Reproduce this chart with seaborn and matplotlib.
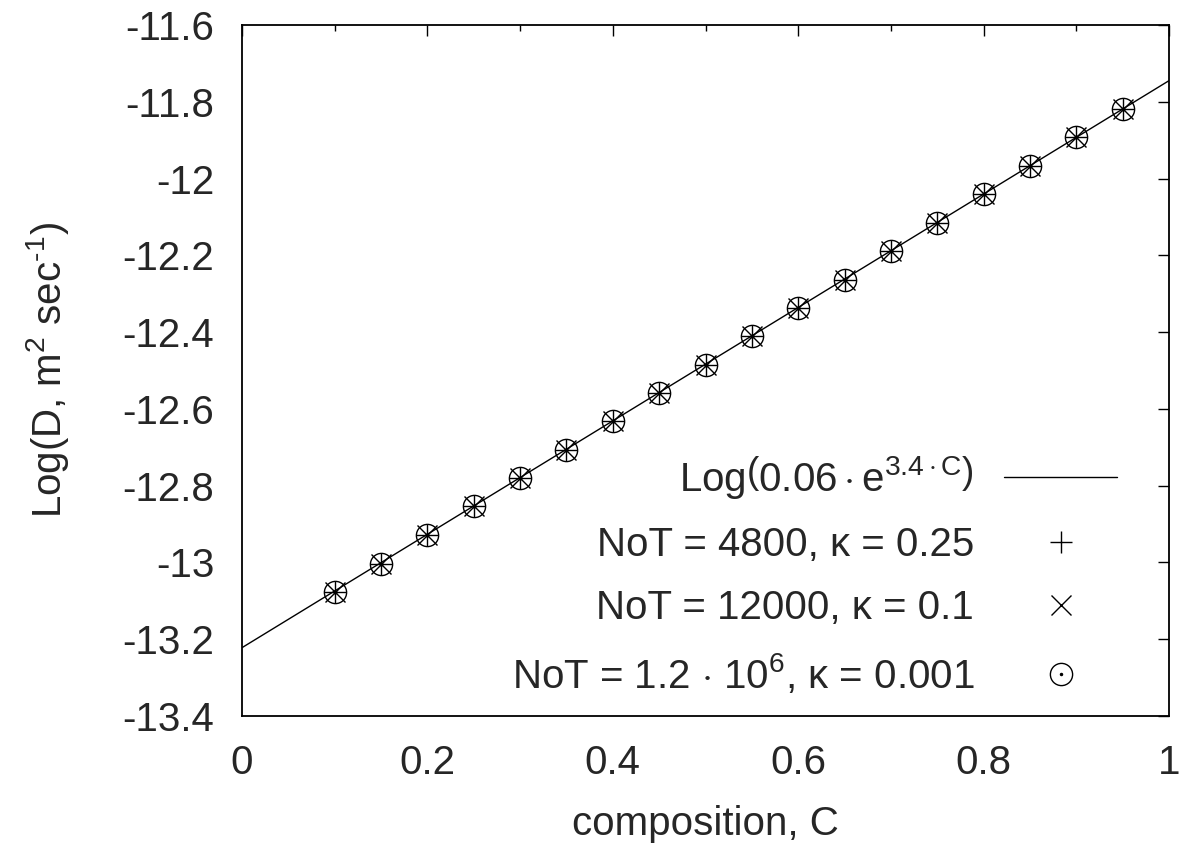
import matplotlib
matplotlib.use("Agg")
import matplotlib.pyplot as plt
import seaborn as sns
import pandas as pd
from matplotlib.lines import Line2D

# ---- data ----
composition = [0.10, 0.15, 0.20, 0.25, 0.30, 0.35, 0.40, 0.45, 0.50,
               0.55, 0.60, 0.65, 0.70, 0.75, 0.80, 0.85, 0.90, 0.95]
log_d = [-13.076, -13.004, -12.928, -12.854, -12.780, -12.706, -12.632, -12.558, -12.485,
         -12.411, -12.337, -12.263, -12.190, -12.115, -12.041, -11.967, -11.893, -11.820]
fit_c = [0.0, 1.0]
fit_logd = [-13.222, -11.745]

fit_label = r'Log$\left(\mathrm{0.06\cdot e^{3.4\cdot C}}\right)$'
series_labels = ['NoT = 4800, κ = 0.25',
                 'NoT = 12000, κ = 0.1',
                 r'NoT = 1.2 $\cdot$ 10$^{6}$, κ = 0.001']
x_ticks = [0, 0.2, 0.4, 0.6, 0.8, 1]
x_ticklabels = ['0', '0.2', '0.4', '0.6', '0.8', '1']
y_ticks = [-13.4, -13.2, -13.0, -12.8, -12.6, -12.4, -12.2, -12.0, -11.8, -11.6]
y_ticklabels = ['-13.4', '-13.2', '-13', '-12.8', '-12.6', '-12.4', '-12.2', '-12', '-11.8', '-11.6']

sns.set_theme(style="white")
plt.rcParams['font.family'] = ['Liberation Sans', 'DejaVu Sans']
plt.rcParams['mathtext.fontset'] = 'custom'
plt.rcParams['mathtext.rm'] = 'Liberation Sans'
plt.rcParams['mathtext.it'] = 'Liberation Sans:italic'
plt.rcParams['mathtext.bf'] = 'Liberation Sans:bold'

FS = 29
fig = plt.figure(figsize=(11.82, 8.51), dpi=100)
ax = fig.add_axes([242/1182, 1-716/851, (1169-242)/1182, (716-25)/851])

df = pd.DataFrame({'C': composition, 'logD': log_d})
fit_df = pd.DataFrame({'C': fit_c, 'logD': fit_logd})

sns.lineplot(data=fit_df, x='C', y='logD', ax=ax, color='black', linewidth=1.0)
ax.plot(df['C'], df['logD'], linestyle='none', marker='+', markersize=16,
        markeredgewidth=1.0, color='black')
ax.plot(df['C'], df['logD'], linestyle='none', marker='x', markersize=15,
        markeredgewidth=1.0, color='black')
ax.plot(df['C'], df['logD'], linestyle='none', marker='o', markersize=16,
        markeredgewidth=1.0, markerfacecolor='none', color='black')
ax.plot(df['C'], df['logD'], linestyle='none', marker='o', markersize=2,
        color='black')

ax.set_xlim(0, 1)
ax.set_ylim(-13.4, -11.6)
ax.set_xticks(x_ticks)
ax.set_xticklabels(x_ticklabels)
ax.set_xticks([0.1, 0.3, 0.5, 0.7, 0.9], minor=True)
ax.set_yticks(y_ticks)
ax.set_yticklabels(y_ticklabels)
ax.tick_params(axis='both', which='major', direction='in', length=8, width=1.0,
               top=True, right=True, labelsize=FS, pad=20, color='black')
ax.tick_params(axis='both', which='minor', direction='in', length=4, width=1.0,
               top=True, right=True, color='black')
for s in ax.spines.values():
    s.set_linewidth(1.3)
    s.set_color('black')

ax.set_xlabel('composition, C', fontsize=FS, labelpad=17)
ax.set_ylabel(r'Log(D, m$^{2}$ sec$^{\text{-1}}$)', fontsize=FS, labelpad=37)

h_fit = Line2D([], [], color='black', linewidth=1.0)
h_plus = Line2D([], [], linestyle='none', marker='+', markersize=16, markeredgewidth=1.0, color='black')
h_x = Line2D([], [], linestyle='none', marker='x', markersize=15, markeredgewidth=1.0, color='black')
h_o = Line2D([], [], linestyle='none', marker='o', markersize=16, markeredgewidth=1.0,
             markerfacecolor='none', color='black')
h_dot = Line2D([], [], linestyle='none', marker='o', markersize=1.5, color='black')

leg = ax.legend([h_fit, h_plus, h_x, (h_o, h_dot)],
                [fit_label] + series_labels,
                loc='lower right', bbox_to_anchor=((1117-242)/927, (716-696)/691),
                frameon=False, markerfirst=False, fontsize=FS,
                handlelength=2.8, handletextpad=0.75, labelspacing=0.62,
                borderpad=0, borderaxespad=0)

fig.savefig('out.png', dpi=100)
